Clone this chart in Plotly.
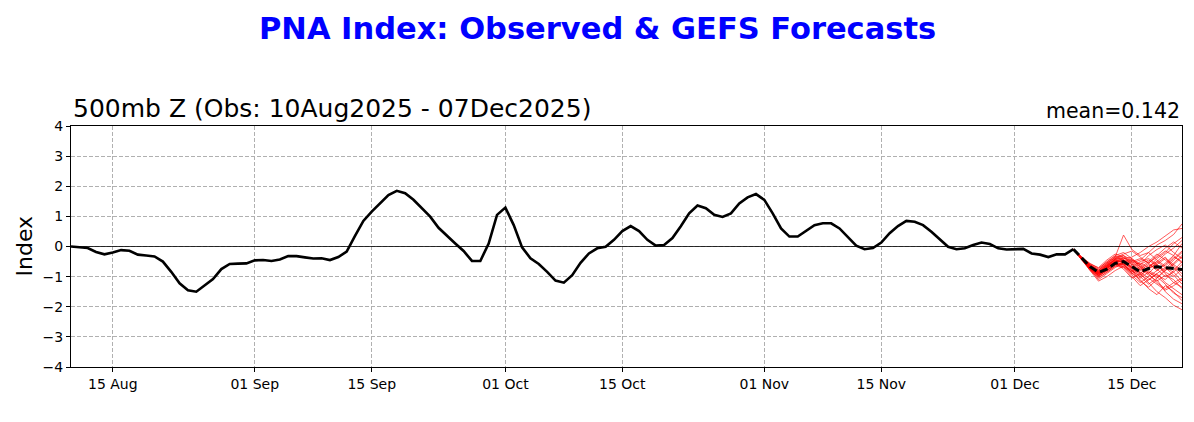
import plotly.graph_objects as go
import pandas as pd

# observed PNA index, daily from 10 Aug 2025
obs_start = "2025-08-10"
obs_values = [
    0.00, -0.02, -0.05, -0.18, -0.26, -0.20, -0.12, -0.14, -0.27, -0.30,
    -0.33, -0.50, -0.84, -1.22, -1.45, -1.50, -1.30, -1.08, -0.75, -0.58,
    -0.57, -0.56, -0.46, -0.45, -0.48, -0.43, -0.32, -0.32, -0.36, -0.40,
    -0.39, -0.45, -0.35, -0.17, 0.35, 0.85, 1.16, 1.45, 1.71, 1.85,
    1.77, 1.55, 1.27, 0.99, 0.62, 0.35, 0.10, -0.15, -0.48, -0.48,
    0.10, 1.05, 1.29, 0.71, -0.03, -0.39, -0.58, -0.84, -1.13, -1.20,
    -0.95, -0.54, -0.23, -0.06, -0.01, 0.22, 0.51, 0.68, 0.51, 0.22,
    0.03, 0.05, 0.28, 0.67, 1.10, 1.36, 1.27, 1.05, 0.98, 1.10,
    1.43, 1.63, 1.74, 1.55, 1.10, 0.60, 0.33, 0.33, 0.51, 0.71,
    0.77, 0.77, 0.60, 0.33, 0.03, -0.09, -0.05, 0.13, 0.44, 0.68,
    0.85, 0.82, 0.71, 0.49, 0.24, -0.01, -0.09, -0.06, 0.05, 0.13,
    0.08, -0.06, -0.10, -0.10, -0.08, -0.23, -0.27, -0.35, -0.26, -0.26,
    -0.09,
]

# GEFS forecasts, daily from 08 Dec 2025
fc_start = "2025-12-08"
fc_mean = [-0.09, -0.39, -0.67, -0.86, -0.75, -0.56, -0.50, -0.67, -0.84, -0.73, -0.67, -0.70, -0.73, -0.76]
members = [
    [-0.09, -0.40, -0.62, -0.80, -0.55, -0.35, 0.38, -0.10, -0.30, -0.20, 0.05, 0.20, 0.40, 0.75],
    [-0.09, -0.35, -0.70, -0.95, -0.70, -0.40, -0.30, -0.55, -0.90, -1.20, -1.50, -1.70, -1.95, -2.10],
    [-0.09, -0.45, -0.75, -0.90, -0.60, -0.45, -0.50, -0.80, -1.00, -0.70, -0.40, -0.20, 0.10, 0.30],
    [-0.09, -0.38, -0.65, -0.85, -0.80, -0.60, -0.55, -0.70, -0.60, -0.30, -0.10, 0.05, -0.20, -0.40],
    [-0.09, -0.42, -0.80, -1.05, -0.85, -0.65, -0.70, -1.00, -1.30, -1.10, -0.90, -1.20, -1.40, -1.60],
    [-0.09, -0.36, -0.60, -0.75, -0.50, -0.30, -0.20, -0.40, -0.70, -0.90, -0.60, -0.40, -0.60, -0.80],
    [-0.09, -0.44, -0.72, -0.95, -0.75, -0.50, -0.40, -0.35, -0.20, 0.00, 0.15, 0.35, 0.55, 0.60],
    [-0.09, -0.40, -0.68, -0.88, -0.65, -0.50, -0.60, -0.90, -1.10, -1.40, -1.60, -1.30, -1.50, -1.80],
    [-0.09, -0.37, -0.58, -0.70, -0.45, -0.25, -0.35, -0.60, -0.80, -0.60, -0.75, -1.00, -0.85, -0.60],
    [-0.09, -0.43, -0.78, -1.10, -0.90, -0.70, -0.55, -0.45, -0.65, -0.85, -1.05, -0.80, -0.55, -0.30],
    [-0.09, -0.41, -0.66, -0.82, -0.60, -0.40, -0.45, -0.70, -0.50, -0.40, -0.60, -0.90, -1.20, -1.05],
    [-0.09, -0.39, -0.64, -0.86, -0.70, -0.55, -0.75, -1.05, -0.90, -0.65, -0.50, -0.70, -0.95, -1.25],
    [-0.09, -0.45, -0.82, -1.15, -1.00, -0.80, -0.65, -0.80, -1.00, -1.25, -1.05, -0.75, -0.45, -0.20],
    [-0.09, -0.38, -0.62, -0.78, -0.55, -0.38, -0.25, -0.15, -0.35, -0.55, -0.30, -0.05, 0.15, -0.05],
    [-0.09, -0.40, -0.70, -0.92, -0.72, -0.52, -0.48, -0.65, -0.85, -1.05, -1.25, -1.45, -1.30, -1.10],
    [-0.09, -0.42, -0.74, -0.98, -0.80, -0.58, -0.62, -0.50, -0.40, -0.55, -0.80, -0.60, -0.35, -0.50],
    [-0.09, -0.36, -0.56, -0.72, -0.52, -0.32, -0.42, -0.75, -0.95, -0.75, -0.55, -0.35, -0.70, -1.00],
    [-0.09, -0.44, -0.76, -1.00, -0.78, -0.60, -0.68, -0.85, -0.70, -0.50, -0.25, -0.45, -0.65, -0.90],
    [-0.09, -0.41, -0.69, -0.90, -0.68, -0.48, -0.52, -0.78, -1.15, -1.35, -1.10, -1.50, -1.75, -1.90],
    [-0.09, -0.39, -0.63, -0.83, -0.62, -0.42, -0.38, -0.55, -0.45, -0.20, -0.45, -0.65, -0.40, -0.15],
    [-0.09, -0.43, -0.73, -0.96, -0.82, -0.62, -0.58, -0.90, -0.75, -0.95, -1.15, -0.95, -1.10, -1.40],
    [-0.09, -0.37, -0.61, -0.79, -0.58, -0.36, -0.30, -0.45, -0.60, -0.80, -0.95, -1.10, -0.80, -0.50],
    [-0.09, -0.42, -0.71, -0.93, -0.74, -0.56, -0.66, -0.95, -1.20, -1.00, -0.80, -0.55, -0.30, 0.10],
    [-0.09, -0.40, -0.67, -0.87, -0.66, -0.46, -0.44, -0.60, -0.55, -0.70, -0.50, -0.25, -0.05, 0.20],
    [-0.09, -0.38, -0.65, -0.84, -0.64, -0.44, -0.56, -0.88, -1.05, -0.85, -1.00, -1.25, -1.55, -1.70],
    [-0.09, -0.44, -0.77, -1.02, -0.86, -0.66, -0.50, -0.40, -0.60, -0.45, -0.65, -0.85, -1.00, -0.75],
    [-0.09, -0.41, -0.68, -0.89, -0.70, -0.50, -0.46, -0.72, -0.92, -1.12, -0.90, -0.70, -0.85, -1.15],
    [-0.09, -0.39, -0.66, -0.86, -0.63, -0.43, -0.36, -0.50, -0.75, -0.55, -0.35, -0.15, -0.30, -0.55],
    [-0.09, -0.43, -0.75, -0.97, -0.76, -0.54, -0.60, -0.82, -0.65, -0.90, -1.20, -1.40, -1.20, -1.35],
    [-0.09, -0.40, -0.70, -0.91, -0.71, -0.51, -0.49, -0.68, -0.88, -0.72, -0.60, -0.80, -0.60, -0.35],
]

x_ticks = ["2025-08-15", "2025-09-01", "2025-09-15", "2025-10-01", "2025-10-15",
           "2025-11-01", "2025-11-15", "2025-12-01", "2025-12-15"]
x_ticktext = ["15 Aug", "01 Sep", "15 Sep", "01 Oct", "15 Oct", "01 Nov", "15 Nov", "01 Dec", "15 Dec"]
y_ticks = [-4, -3, -2, -1, 0, 1, 2, 3, 4]
y_ticktext = ["−4", "−3", "−2", "−1", "0", "1", "2", "3", "4"]

obs_dates = pd.date_range(obs_start, periods=len(obs_values), freq="D")
fc_dates = pd.date_range(fc_start, periods=len(fc_mean), freq="D")

fig = go.Figure()

fig.add_trace(go.Scatter(x=obs_dates, y=obs_values, mode="lines",
                         line=dict(color="black", width=2.6), name="Observed"))
for m in members:
    fig.add_trace(go.Scatter(x=fc_dates, y=m, mode="lines",
                             line=dict(color="red", width=0.8), opacity=0.8,
                             showlegend=False))
fig.add_trace(go.Scatter(x=fc_dates, y=fc_mean, mode="lines",
                         line=dict(color="black", width=3, dash="8px,4px"), name="GEFS mean"))

fig.add_hline(y=0, line=dict(color="black", width=0.8))

# the page puts the plot 8px in from the corner, margins allow for that
axis_font = dict(family="DejaVu Sans", size=14, color="black")
fig.update_layout(
    width=1194, height=422,
    margin=dict(l=63, r=20, t=118, b=63),
    paper_bgcolor="white", plot_bgcolor="white",
    showlegend=False,
    font=dict(family="DejaVu Sans", color="black"),
    xaxis=dict(range=["2025-08-10", "2025-12-21"], tickvals=x_ticks, ticktext=x_ticktext,
               showgrid=True, gridcolor="#b0b0b0", griddash="4px,2px", gridwidth=1,
               showline=True, linecolor="black", linewidth=1, mirror=True,
               ticks="outside", ticklen=4, tickcolor="black", tickfont=axis_font,
               zeroline=False),
    yaxis=dict(range=[-4, 4], tickvals=y_ticks, ticktext=y_ticktext,
               showgrid=True, gridcolor="#b0b0b0", griddash="4px,2px", gridwidth=1,
               showline=True, linecolor="black", linewidth=1, mirror=True,
               ticks="outside", ticklen=4, tickcolor="black", tickfont=axis_font,
               zeroline=False),
    annotations=[
        dict(text="<b>PNA Index: Observed & GEFS Forecasts</b>", xref="paper", yref="paper",
             x=0.4735, y=1, yshift=98, xanchor="center", yanchor="middle", showarrow=False,
             font=dict(family="DejaVu Sans", size=30.5, color="blue")),
        dict(text="500mb Z (Obs: 10Aug2025 - 07Dec2025)", xref="paper", yref="paper",
             x=0, y=1, yshift=1, xanchor="left", yanchor="bottom", showarrow=False,
             font=dict(family="DejaVu Sans", size=25, color="black")),
        dict(text="mean=0.142", xref="paper", yref="paper",
             x=1, y=1, yshift=1, xanchor="right", yanchor="bottom", showarrow=False,
             font=dict(family="DejaVu Sans", size=20.5, color="black")),
        dict(text="Index", xref="paper", yref="paper", x=0, y=0.5, xshift=-47,
             xanchor="center", yanchor="middle", textangle=-90, showarrow=False,
             font=dict(family="DejaVu Sans", size=22, color="black")),
    ],
)

fig.write_html("out.html")
